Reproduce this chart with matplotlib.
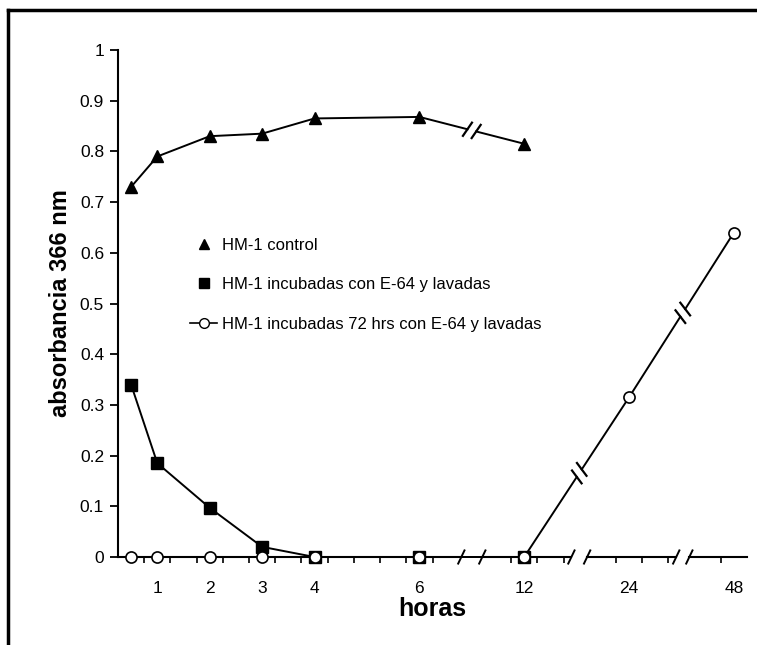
import numpy as np
import matplotlib
matplotlib.use("Agg")
import matplotlib.pyplot as plt
from matplotlib.lines import Line2D

plt.rcParams['font.family'] = ['Liberation Sans', 'DejaVu Sans']

# eje x de categorias (Excel), cada casilla = media hora hasta las 6 h, luego cortes
x_categorias = ['0.5', '1', '1.5', '2', '2.5', '3', '3.5', '4', '4.5', '5', '5.5', '6',
                '', '', '', '12', '', '', '', '24', '', '', '', '48']
x_etiquetas = ['1', '2', '3', '4', '6', '12', '24', '48']

horas_control = ['0.5', '1', '2', '3', '4', '6', '12']
abs_control = [0.73, 0.79, 0.83, 0.835, 0.865, 0.868, 0.815]

horas_e64 = ['0.5', '1', '2', '3', '4', '6', '12']
abs_e64 = [0.34, 0.185, 0.097, 0.02, 0.0, 0.0, 0.0]

horas_e64_72 = ['0.5', '1', '2', '3', '4', '6', '12', '24', '48']
abs_e64_72 = [0.0, 0.0, 0.0, 0.0, 0.0, 0.0, 0.0, 0.315, 0.64]

y_ticks = [0, 0.1, 0.2, 0.3, 0.4, 0.5, 0.6, 0.7, 0.8, 0.9, 1]
y_etiquetas = ['0', '0.1', '0.2', '0.3', '0.4', '0.5', '0.6', '0.7', '0.8', '0.9', '1']

# cortes del eje x (en unidades de casilla)
CORTES = [(13.1, 13.9), (17.3, 17.9), (21.3, 21.8)]


def pos(etiquetas):
    return [x_categorias.index(e) + 0.5 for e in etiquetas]


def linea_cortada(ax, xs, ys, cortes=(), lw=1.4):
    tr = ax.transData
    inv = tr.inverted()
    pts = tr.transform(np.column_stack([xs, ys]))
    xs = list(xs)
    tramo = [pts[0]]
    marcas = []
    for i in range(1, len(pts)):
        p0, p1 = pts[i - 1], pts[i]
        for c in cortes:
            if xs[i - 1] < c < xs[i]:
                t = (c - xs[i - 1]) / (xs[i] - xs[i - 1])
                pc = p0 + t * (p1 - p0)
                d = (p1 - p0) / np.hypot(*(p1 - p0))
                a = pc - d * 4.5
                b = pc + d * 4.5
                tramo.append(a)
                dat = inv.transform(np.array(tramo))
                ax.plot(dat[:, 0], dat[:, 1], color='k', lw=lw, clip_on=False)
                tramo = [b]
                ang = np.arctan2(d[1], d[0]) + np.radians(70)
                u = np.array([np.cos(ang), np.sin(ang)]) * 8
                marcas += [(a - u, a + u), (b - u, b + u)]
        tramo.append(p1)
    dat = inv.transform(np.array(tramo))
    ax.plot(dat[:, 0], dat[:, 1], color='k', lw=lw, clip_on=False)
    for m0, m1 in marcas:
        dm = inv.transform(np.array([m0, m1]))
        ax.plot(dm[:, 0], dm[:, 1], color='k', lw=lw + 0.2, clip_on=False)


fig = plt.figure(figsize=(7.57, 6.45), dpi=100)
ax = fig.add_axes([118 / 757, 88 / 645, 629 / 757, 507 / 645])

ax.set_xlim(0, 24)
ax.set_ylim(0, 1)

# marco de la figura
fig.add_artist(Line2D([8 / 757, 8 / 757], [0, 1 - 10 / 645], color='k', lw=2.5))
fig.add_artist(Line2D([8 / 757, 1], [1 - 10 / 645, 1 - 10 / 645], color='k', lw=2.5))

# eje x con cortes
ax.spines['bottom'].set_visible(False)
ax.spines['top'].set_visible(False)
ax.spines['right'].set_visible(False)
ax.spines['left'].set_linewidth(1.5)
trans_x = ax.get_xaxis_transform()
limites = [0] + [v for c in CORTES for v in c] + [24]
for i in range(0, len(limites), 2):
    ax.plot([limites[i], limites[i + 1]], [0, 0], color='k', lw=1.5, clip_on=False)
    for lim in (limites[i], limites[i + 1]):
        if 0 < lim < 24:
            ax.plot([lim - 0.12, lim + 0.12], [-0.013, 0.013], transform=trans_x,
                    color='k', lw=1.4, clip_on=False)
marcas_x = [k for k in range(1, 24)
            if not any(a - 0.2 <= k <= b + 0.2 for a, b in CORTES)]
ax.vlines(marcas_x, -0.011, 0, transform=trans_x, color='k', lw=1.2, clip_on=False)
ax.set_xticks(pos(x_etiquetas))
ax.set_xticklabels(x_etiquetas, fontsize=12.5)
ax.tick_params(axis='x', length=0, pad=17)

ax.set_yticks(y_ticks)
ax.set_yticklabels(y_etiquetas, fontsize=12.5)
ax.tick_params(axis='y', direction='out', length=6, width=1.3, pad=4)

ax.set_xlabel('horas', fontsize=18, fontweight='bold', labelpad=1)
ax.set_ylabel('absorbancia 366 nm', fontsize=17, fontweight='bold', labelpad=6)

# series
linea_cortada(ax, pos(horas_e64_72), abs_e64_72, cortes=[17.6, 21.55])
linea_cortada(ax, pos(horas_e64), abs_e64)
linea_cortada(ax, pos(horas_control), abs_control, cortes=[13.5])

ax.plot(pos(horas_control), abs_control, ls='none', marker='^', ms=8, color='k',
        clip_on=False, zorder=5)
ax.plot(pos(horas_e64), abs_e64, ls='none', marker='s', ms=9, color='k',
        clip_on=False, zorder=5)
ax.plot(pos(horas_e64_72), abs_e64_72, ls='none', marker='o', ms=8, mfc='white',
        mec='k', mew=1.2, clip_on=False, zorder=6)

h1 = Line2D([], [], ls='none', marker='^', ms=7, color='k')
h2 = Line2D([], [], ls='none', marker='s', ms=7, color='k')
h3 = Line2D([], [], ls='-', lw=1.2, marker='o', ms=7, mfc='white', mec='k', color='k')
ax.legend([h1, h2, h3],
          ['HM-1 control', 'HM-1 incubadas con E-64 y lavadas',
           'HM-1 incubadas 72 hrs con E-64 y lavadas'],
          loc='upper left', bbox_to_anchor=(0.115, 0.63), frameon=False,
          fontsize=12, handlelength=1.6, handletextpad=0.3, labelspacing=1.48,
          borderpad=0, borderaxespad=0)

fig.savefig('out.png', dpi=100)
